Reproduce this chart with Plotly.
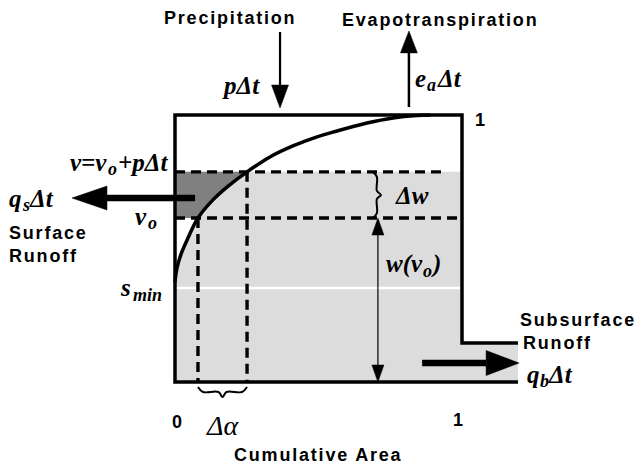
import math
import plotly.graph_objects as go

# ---------------- data ----------------
# variable infiltration curve: cumulative area fraction vs. soil moisture capacity
curve_area = [0.0, 0.007, 0.021, 0.045, 0.080, 0.132, 0.181, 0.251, 0.331,
              0.411, 0.495, 0.551, 0.669, 0.760, 0.843, 0.889]
curve_moist = [0.375, 0.427, 0.479, 0.539, 0.614, 0.682, 0.730, 0.787, 0.843,
               0.884, 0.918, 0.936, 0.970, 0.989, 0.998, 1.0]
s_min = 0.352          # minimum storage level
v_o = 0.614            # initial level
v_new = 0.787          # level after precipitation  v = v_o + p*dt
a_vo = 0.080           # area fraction saturated at v_o
a_v = 0.251            # area fraction saturated at v
outlet_level = 0.146   # subsurface outlet height
outlet_end = 1.195     # end of outlet channel (area units)
v_line_end = 0.941     # end of the dashed line at v

# pixel scale of the diagram axes (px per unit); origin of the box at px (175, 382)
PX_X, PX_Y = 287.0, 267.0
OX, OY = 175.0, 382.0
X_RANGE = [-OX / PX_X, (638 - OX) / PX_X]
Y_RANGE = [(OY - 466) / PX_Y, OY / PX_Y]


def dx(px):
    return (px - OX) / PX_X


def dy(py):
    return (OY - py) / PX_Y


LIGHT = "#dcdcdc"
DARK = "#808080"

fig = go.Figure()


def add(x, y, **kw):
    fig.add_trace(go.Scatter(x=x, y=y, hoverinfo="skip", showlegend=False, **kw))


# light grey storage
add([0, outlet_end, outlet_end, 1, 1, 0], [0, 0, outlet_level, outlet_level, v_new, v_new],
    mode="lines", fill="toself", fillcolor=LIGHT, line=dict(width=0, color=LIGHT))

i_vo = curve_area.index(a_vo)
i_v = curve_area.index(a_v)
# white region left of the curve below v_o
add([0] + curve_area[:i_vo + 1] + [0], [curve_moist[0]] + curve_moist[:i_vo + 1] + [v_o],
    mode="lines", fill="toself", fillcolor="white", line=dict(width=0, color="white"))
# dark grey: surface runoff wedge
add(curve_area[i_vo:i_v + 1] + [0, 0], curve_moist[i_vo:i_v + 1] + [v_new, v_o],
    mode="lines", fill="toself", fillcolor=DARK, line=dict(width=0, color=DARK))
# white line at s_min
add([0, 1], [s_min, s_min], mode="lines", line=dict(color="white", width=2.5))

# dashed guide lines
dash = dict(color="black", width=3.4, dash="10px,6px")
add([0, v_line_end], [v_new, v_new], mode="lines", line=dash)
add([0, 1], [v_o, v_o], mode="lines", line=dash)
add([a_vo, a_vo], [v_o, 0], mode="lines", line=dash)
add([a_v, a_v], [v_new, 0], mode="lines", line=dash)

# curve
add(curve_area, curve_moist, mode="lines", line=dict(color="black", width=3.5, shape="spline"))

# box
add([outlet_end, 1, 1, 0, 0, outlet_end], [outlet_level, outlet_level, 1, 1, 0, 0],
    mode="lines", line=dict(color="black", width=3.5))


def head(xt, yt, ux, uy, hl, hw):
    bx, by = xt - ux * hl / PX_X, yt - uy * hl / PX_Y
    px, py = -uy, ux
    add([xt, bx + px * hw / 2 / PX_X, bx - px * hw / 2 / PX_X, xt],
        [yt, by + py * hw / 2 / PX_Y, by - py * hw / 2 / PX_Y, yt],
        mode="lines", fill="toself", fillcolor="black", line=dict(color="black", width=0.5))
    return bx, by


def arrow(x0, y0, x1, y1, lw, hl, hw, both=False):
    ddx, ddy = (x1 - x0) * PX_X, (y1 - y0) * PX_Y
    L = math.hypot(ddx, ddy)
    ux, uy = ddx / L, ddy / L
    bx, by = head(x1, y1, ux, uy, hl, hw)
    sx, sy = x0, y0
    if both:
        sx, sy = head(x0, y0, -ux, -uy, hl, hw)
    add([sx, bx], [sy, by], mode="lines", line=dict(color="black", width=lw))


arrow(0.366, 1.311, 0.366, 1.026, 2.2, 23, 17)          # precipitation
arrow(0.815, 1.030, 0.815, 1.315, 2.5, 22, 17)          # evapotranspiration
arrow(0.070, 0.689, -0.359, 0.689, 6.5, 35, 24)         # surface runoff
arrow(0.861, 0.071, 1.199, 0.071, 6.5, 33, 25)          # subsurface runoff
arrow(0.707, v_o, 0.707, 0.0, 1.2, 17, 12, both=True)   # w(v_o)


# braces
def vbrace(xb, ytop, ybot):
    mid = (ytop + ybot) / 2
    ox = [-3, 1, 1, 5, 1, 1, -3]
    ys = [ytop, ytop - 5 / PX_Y, mid + 4 / PX_Y, mid, mid - 4 / PX_Y, ybot + 5 / PX_Y, ybot]
    xs = [xb + o / PX_X for o in ox]
    add(xs, ys, mode="lines", line=dict(color="black", width=2, shape="spline"))


def hbrace(x0, x1, yb):
    mid = (x0 + x1) / 2
    xs = [x0, x0 + 5 / PX_X, mid - 4 / PX_X, mid, mid + 4 / PX_X, x1 - 5 / PX_X, x1]
    oy = [3, -2, -2, -7, -2, -2, 3]
    ys = [yb + o / PX_Y for o in oy]
    add(xs, ys, mode="lines", line=dict(color="black", width=2, shape="spline"))


vbrace(0.700, v_new, v_o)
hbrace(a_vo, a_v, -0.030)

# ---------------- text ----------------
SANS_SIZE = 18
SERIF_SIZE = 25
SUB_SIZE = 18
SANS = dict(family="Liberation Sans, Arial", size=SANS_SIZE, color="black", weight="bold")
SERIF = dict(family="Liberation Serif, Times New Roman", size=SERIF_SIZE, color="black",
             weight="bold", style="italic")
SUBF = dict(SERIF, size=SUB_SIZE)


def sp(t):
    return '<span style="letter-spacing:1.8px">' + t + '</span>'


def txt(x, y, t, font, xanchor="center", align="center"):
    fig.add_annotation(x=x, y=y, text=t, showarrow=False, font=font,
                       xanchor=xanchor, yanchor="middle", align=align, borderpad=0)


def math_label(head_txt, split_px, sub_txt, sub_w, tail_txt, y_px, sub_drop=7, kern=-1):
    """main text ending at split_px, subscript starting there, optional tail after it."""
    txt(dx(split_px), dy(y_px), head_txt, SERIF, xanchor="right")
    txt(dx(split_px + kern), dy(y_px + sub_drop), sub_txt, SUBF, xanchor="left")
    if tail_txt:
        txt(dx(split_px + kern + sub_w), dy(y_px), tail_txt, SERIF, xanchor="left")


txt(dx(230), dy(18), sp("Precipitation"), SANS)
txt(dx(440), dy(20), sp("Evapotranspiration"), SANS)
txt(dx(241), dy(85), "pΔt", SERIF)
math_label("e", 427, "a", 10, "Δt", 78, kern=-1)
txt(dx(480), dy(120), "1", SANS)
math_label("v=v", 108, "o", 10, "+pΔt", 162, kern=-1)
math_label("q", 23, "s", 7, "Δt", 198, kern=-2)
txt(dx(8), dy(244), sp("Surface") + "<br>" + sp("Runoff"), SANS, xanchor="left", align="left")
math_label("v", 148, "o", 9, "", 216, kern=-1)
math_label("s", 132, "min", 30, "", 287, sub_drop=8, kern=0)
txt(dx(412), dy(195), "Δw", SERIF)
math_label("w(v", 424, "o", 8, ")", 264, kern=-2)
txt(dx(519), dy(320), sp("Subsurface"), SANS, xanchor="left")
txt(dx(522), dy(343), sp("Runoff"), SANS, xanchor="left")
math_label("q", 541, "b", 8, "Δt", 374, kern=-2)
txt(dx(177), dy(422), "0", SANS)
txt(dx(222), dy(425), "Δα", dict(family="Liberation Serif", size=28, color="black", style="italic"))
txt(dx(458), dy(420), "1", SANS)
txt(dx(318), dy(455), sp("Cumulative Area"), SANS)

fig.update_layout(
    width=638, height=466, margin=dict(l=0, r=0, t=0, b=0),
    paper_bgcolor="white", plot_bgcolor="white",
    xaxis=dict(range=X_RANGE, visible=False, fixedrange=True),
    yaxis=dict(range=Y_RANGE, visible=False, fixedrange=True),
)

fig.write_html("out.html", config={"displayModeBar": False},
               post_script="document.body.style.margin='0';")
